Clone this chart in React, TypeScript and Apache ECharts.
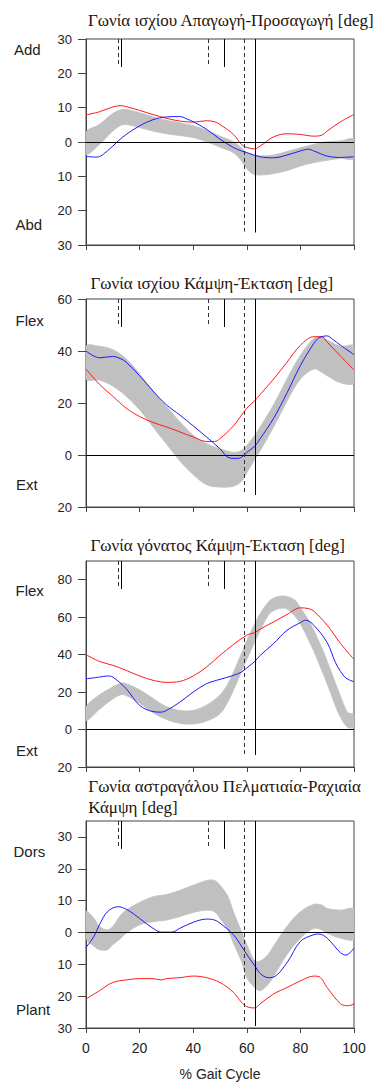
import React, { useEffect, useRef } from "react";
import * as echarts from "echarts";

// ---------- DATA ----------
const panelTitles: string[][] = [
  ["Γωνία ισχίου Απαγωγή-Προσαγωγή [deg]"],
  ["Γωνία ισχίου Κάμψη-Έκταση [deg]"],
  ["Γωνία γόνατος Κάμψη-Έκταση [deg]"],
  ["Γωνία αστραγάλου Πελματιαία-Ραχιαία", "Κάμψη [deg]"],
];
const upperLabels = ["Add", "Flex", "Flex", "Dors"];
const lowerLabels = ["Abd", "Ext", "Ext", "Plant"];
const yMins = [-30, -20, -20, -30];
const yMaxs = [30, 60, 90, 35];
const ySteps = [10, 20, 20, 10];
const xAxisName = "% Gait Cycle";

// gait events (% gait cycle)
const eventsDashed = [11.9, 45.5, 59.1];
const eventsSolid = [13.1, 51.4, 63.2];

// Panel 1: hip abduction / adduction
const hipAddRed: number[][] = [[0,7.9],[5,8.8],[10,10.2],[13,10.6],[15,10.3],[20,9.2],[25,8.0],[30,6.9],[35,6.1],[40,5.8],[45,6.2],[48,5.9],[50,5.1],[55,2.2],[58,-0.7],[60,-1.6],[63,-2.0],[65,-1.2],[70,1.5],[75,2.4],[80,2.2],[85,1.7],[88,2.0],[90,3.2],[95,5.9],[100,8.0]];
const hipAddBlue: number[][] = [[0,-4.2],[4,-4.4],[8,-2.6],[12,0.3],[15,2.2],[20,4.7],[25,6.5],[30,7.3],[35,7.4],[38,6.6],[40,5.9],[45,3.7],[50,0.8],[55,-1.6],[58,-2.6],[60,-3.1],[65,-4.3],[70,-4.6],[75,-3.8],[80,-2.6],[83,-2.1],[85,-2.6],[90,-4.1],[95,-4.5],[100,-4.3]];
const hipAddBandPct = [0,5,10,14,20,25,30,35,40,45,50,55,58,60,62,65,70,75,80,85,90,95,100];
const hipAddBandHigh = [2.8,5.1,8.3,9.5,8.5,7.3,6.3,5.6,4.7,3.4,1.7,0.1,-1.7,-3.1,-3.8,-4.1,-3.8,-2.8,-1.7,-0.7,0.1,0.3,0.8];
const hipAddBandLow = [-3.6,-0.7,3.2,5.1,4.2,3.2,2.4,1.9,1.3,0.1,-1.5,-3.1,-5.5,-7.7,-9.2,-9.6,-9.2,-8.3,-7.0,-6.0,-5.3,-4.8,-4.8];

// Panel 2: hip flexion / extension
const hipFlexRed: number[][] = [[0,33.1],[5,27.2],[10,22.6],[15,18.0],[20,14.8],[25,12.5],[30,10.8],[35,8.9],[40,6.9],[45,5.2],[48,5.2],[50,6.3],[55,11.2],[60,18.0],[63,20.9],[65,23.3],[70,29.2],[75,35.7],[80,42.2],[85,45.5],[88,45.5],[90,43.4],[95,38.0],[100,32.7]];
const hipFlexBlue: number[][] = [[0,40.0],[5,37.4],[10,37.9],[13,37.0],[15,35.7],[20,30.5],[25,24.6],[30,19.3],[35,15.4],[40,11.2],[45,6.9],[50,2.4],[53,-0.9],[56,-1.3],[58,-0.9],[60,1.0],[63,3.4],[65,6.3],[70,14.1],[75,23.9],[80,34.4],[85,42.9],[87,45.1],[90,45.8],[92,44.5],[95,42.2],[100,38.6]];
const hipFlexBandPct = [0,5,10,15,20,25,30,35,40,45,50,55,58,60,63,65,70,75,80,85,88,90,95,100];
const hipFlexBandHigh = [41.8,41.8,40.5,37.0,31.1,24.6,18.7,12.8,7.6,4.3,2.4,1.0,1.7,3.7,7.6,10.8,19.3,29.2,38.3,44.8,45.5,44.2,41.8,41.8];
const hipFlexBandLow = [29.2,28.8,26.5,22.6,17.4,10.8,4.3,-2.2,-7.5,-11.4,-12.3,-12.0,-10.1,-6.8,-1.6,1.7,10.8,20.7,29.2,33.1,31.8,30.5,27.8,27.8];

// Panel 3: knee flexion / extension
const kneeRed: number[][] = [[0,40.0],[5,36.4],[10,34.3],[15,31.6],[20,28.6],[25,26.3],[30,25.2],[35,25.7],[40,28.6],[45,33.4],[50,39.6],[55,45.4],[60,50.4],[63,51.8],[65,53.6],[70,57.5],[75,61.4],[80,65.0],[83,64.6],[85,63.2],[90,55.7],[95,45.9],[100,37.5]];
const kneeBlue: number[][] = [[0,27.1],[5,28.0],[8,28.6],[10,28.0],[15,21.8],[20,12.9],[25,9.6],[28,9.3],[30,10.2],[35,14.6],[40,20.0],[45,24.5],[50,26.8],[55,28.9],[58,30.7],[60,32.9],[63,36.4],[65,39.6],[70,45.9],[75,53.0],[80,57.1],[82,58.4],[85,55.7],[90,46.4],[93,36.0],[95,31.0],[97,27.5],[100,25.5]];
const kneeBandPct = [0,5,10,13,15,20,25,30,35,40,45,50,53,55,58,60,63,65,68,70,73,75,78,80,83,85,88,90,93,95,97,98,100];
const kneeBandHigh = [12.0,18.5,22.7,24.8,24.5,21.2,16.6,12.2,10.2,10.2,13.0,18.5,24.5,30.5,40.5,47.5,56.5,62.0,68.0,70.2,71.3,71.0,69.0,65.0,58.5,53.0,43.5,36.5,25.0,17.5,10.5,8.8,8.0];
const kneeBandLow = [4.8,10.8,16.4,18.6,18.2,14.2,9.0,5.4,3.4,3.0,4.6,8.5,15.0,21.0,31.0,37.5,47.0,53.0,61.0,63.6,64.8,64.5,60.5,56.5,48.0,42.0,31.5,24.5,13.0,6.5,2.0,1.0,1.2];

// Panel 4: ankle plantar / dorsi flexion
const ankleRed: number[][] = [[0,-20.9],[5,-18.3],[10,-15.7],[15,-14.9],[20,-14.5],[25,-14.5],[28,-14.9],[30,-14.5],[35,-14.2],[40,-13.7],[45,-14.2],[50,-15.7],[55,-18.8],[58,-21.9],[60,-23.3],[63,-23.7],[65,-22.4],[70,-19.3],[75,-17.3],[80,-15.2],[85,-13.7],[87,-13.9],[90,-17.3],[95,-22.4],[98,-23.0],[100,-22.4]];
const ankleBlue: number[][] = [[0,-4.7],[3,-1.2],[5,2.4],[8,6.5],[12,8.1],[15,7.3],[18,5.7],[20,4.4],[25,1.3],[28,0.1],[32,0.1],[35,1.3],[40,3.2],[45,4.2],[48,3.9],[50,2.9],[55,-0.7],[58,-4.3],[60,-6.9],[63,-10.5],[65,-12.9],[68,-14.2],[70,-14.0],[75,-9.5],[80,-2.8],[85,-0.7],[87,-0.5],[90,-1.8],[95,-6.4],[97,-7.1],[100,-4.9]];
const ankleBandPct = [0,3,5,8,10,13,15,20,25,30,35,40,45,48,50,53,55,58,60,63,65,68,70,75,80,85,88,90,95,100];
const ankleBandHigh = [6.5,4.4,1.9,0.8,1.9,5.5,7.0,9.4,11.2,11.9,13.2,14.8,16.3,16.3,14.8,11.2,6.5,0.3,-3.8,-9.0,-9.0,-6.9,-4.3,1.9,6.5,8.8,8.6,7.5,7.0,7.3];
const ankleBandLow = [-1.8,-4.3,-5.4,-5.4,-3.8,-1.8,-0.2,2.4,3.4,3.9,5.0,6.3,7.0,6.5,4.4,0.8,-3.3,-9.0,-14.2,-17.3,-18.3,-16.2,-13.7,-6.9,-1.8,1.3,0.8,-0.2,-1.8,-2.0];

const redSeries = [hipAddRed, hipFlexRed, kneeRed, ankleRed];
const blueSeries = [hipAddBlue, hipFlexBlue, kneeBlue, ankleBlue];
const bandPcts = [hipAddBandPct, hipFlexBandPct, kneeBandPct, ankleBandPct];
const bandHighs = [hipAddBandHigh, hipFlexBandHigh, kneeBandHigh, ankleBandHigh];
const bandLows = [hipAddBandLow, hipFlexBandLow, kneeBandLow, ankleBandLow];

// ---------- LAYOUT / STYLE ----------
const GRID_LEFT = 86;
const GRID_W = 268;
const gridTops = [39, 299, 561, 821];
const gridHeights = [206, 208, 206, 208];
const titleX = [88, 90.5, 90.5, 88.3];
const titleY = [[20], [283.7], [545.4], [786.7, 807.7]];
const upperLabelPos = [[14, 49], [15.5, 320], [15.5, 590], [13.5, 851]];
const lowerLabelPos = [[15.5, 224], [16, 484], [16, 750], [16, 1009]];
const shortLen = 28;
const longGapDashed = [13.5, 13.5, 13, 6];
const longGapSolid = [12.5, 12, 12, 2];
const SANS = '"Liberation Sans", Arial, Helvetica, sans-serif';
const SERIF = '"Liberation Serif", "Times New Roman", Times, serif';
const AXIS_COLOR = "#444";
const TEXT_COLOR = "#222";

function buildOption() {
  const grid: any[] = [];
  const xAxis: any[] = [];
  const yAxis: any[] = [];
  const series: any[] = [];
  const graphic: any[] = [];

  for (let i = 0; i < 4; i++) {
    const min = yMins[i], max = yMaxs[i], h = gridHeights[i];
    const toVal = (px: number) => max - (px / h) * (max - min);
    const yTickVals: number[] = [];
    for (let v = min; v <= max; v += ySteps[i]) yTickVals.push(v);

    grid.push({
      left: GRID_LEFT, top: gridTops[i], width: GRID_W, height: h,
      show: true, borderColor: AXIS_COLOR, borderWidth: 1, backgroundColor: "transparent",
    });
    const last = i === 3;
    xAxis.push({
      type: "value", gridIndex: i, min: 0, max: 100, interval: 20,
      axisLine: { show: true, onZero: false, lineStyle: { color: AXIS_COLOR, width: 1 } },
      axisTick: { show: true, length: 5, lineStyle: { color: AXIS_COLOR } },
      axisLabel: { show: last, fontSize: 14, color: TEXT_COLOR, margin: 13, fontFamily: SANS },
      splitLine: { show: false },
      name: last ? xAxisName : "",
      nameLocation: "middle", nameGap: 39,
      nameTextStyle: { fontSize: 14, color: TEXT_COLOR, fontFamily: SANS },
    });
    yAxis.push({
      type: "value", gridIndex: i, min, max, interval: ySteps[i],
      axisLine: { show: true, lineStyle: { color: AXIS_COLOR, width: 1 } },
      axisTick: { show: true, length: 8, customValues: yTickVals, lineStyle: { color: AXIS_COLOR } },
      axisLabel: {
        show: true, customValues: yTickVals, fontSize: 13, color: TEXT_COLOR, margin: 14, fontFamily: SANS,
        formatter: (v: number) => String(Math.abs(v)),
      },
      splitLine: { show: false },
    });

    const pct = bandPcts[i], hi = bandHighs[i], lo = bandLows[i];
    series.push({
      type: "custom", xAxisIndex: i, yAxisIndex: i, z: 1, silent: true, clip: true,
      data: [[pct[0], lo[0]]],
      renderItem: (_p: any, api: any) => {
        const pts: number[][] = [];
        for (let k = 0; k < pct.length; k++) pts.push(api.coord([pct[k], hi[k]]));
        for (let k = pct.length - 1; k >= 0; k--) pts.push(api.coord([pct[k], lo[k]]));
        return {
          type: "polygon",
          shape: { points: pts, smooth: 0.35 },
          style: { fill: "#c0c0c0", stroke: "#c4c4c4", lineWidth: 1 },
        };
      },
    });

    const mlData: any[] = [
      { yAxis: 0, lineStyle: { color: "#000", width: 1, type: "solid" } },
    ];
    eventsDashed.forEach((p, k) => {
      const end = k === 2 ? toVal(h - longGapDashed[i]) : toVal(shortLen);
      mlData.push([
        { coord: [p, max], lineStyle: { color: "#333", width: 1, type: [4, 3] } },
        { coord: [p, end] },
      ]);
    });
    eventsSolid.forEach((p, k) => {
      const end = k === 2 ? toVal(h - longGapSolid[i]) : toVal(shortLen);
      mlData.push([
        { coord: [p, max], lineStyle: { color: "#000", width: 1, type: "solid" } },
        { coord: [p, end] },
      ]);
    });
    series.push({
      type: "line", xAxisIndex: i, yAxisIndex: i, z: 2, silent: true,
      data: [[0, 0]], symbol: "none", lineStyle: { opacity: 0 },
      markLine: {
        silent: true, symbol: ["none", "none"], label: { show: false }, animation: false,
        data: mlData,
      },
    });

    series.push({
      type: "line", xAxisIndex: i, yAxisIndex: i, z: 3, silent: true,
      data: redSeries[i], symbol: "none", smooth: 0.35,
      lineStyle: { color: "#ff1a1a", width: 1 },
    });
    series.push({
      type: "line", xAxisIndex: i, yAxisIndex: i, z: 3, silent: true,
      data: blueSeries[i], symbol: "none", smooth: 0.35,
      lineStyle: { color: "#1a1aff", width: 1 },
    });

    panelTitles[i].forEach((t, k) => {
      graphic.push({
        type: "text", x: titleX[i], y: titleY[i][k], silent: true,
        style: { text: t, font: `17px ${SERIF}`, fill: "#1e1410", verticalAlign: "middle", align: "left" },
      });
    });
    graphic.push({
      type: "text", x: upperLabelPos[i][0], y: upperLabelPos[i][1], silent: true,
      style: { text: upperLabels[i], font: `15px ${SANS}`, fill: TEXT_COLOR, verticalAlign: "middle", align: "left" },
    });
    graphic.push({
      type: "text", x: lowerLabelPos[i][0], y: lowerLabelPos[i][1], silent: true,
      style: { text: lowerLabels[i], font: `15px ${SANS}`, fill: TEXT_COLOR, verticalAlign: "middle", align: "left" },
    });
  }

  return {
    animation: false,
    backgroundColor: "#ffffff",
    grid, xAxis, yAxis, series, graphic,
  };
}

export default function App() {
  const ref = useRef<HTMLDivElement>(null);
  useEffect(() => {
    if (!ref.current) return;
    const chart = echarts.init(ref.current, undefined, { renderer: "svg" });
    chart.setOption(buildOption() as any);
    return () => chart.dispose();
  }, []);
  return (
    <div
      ref={ref}
      style={{ position: "fixed", left: 0, top: 0, width: 375, height: 1082, background: "#fff" }}
    />
  );
}
